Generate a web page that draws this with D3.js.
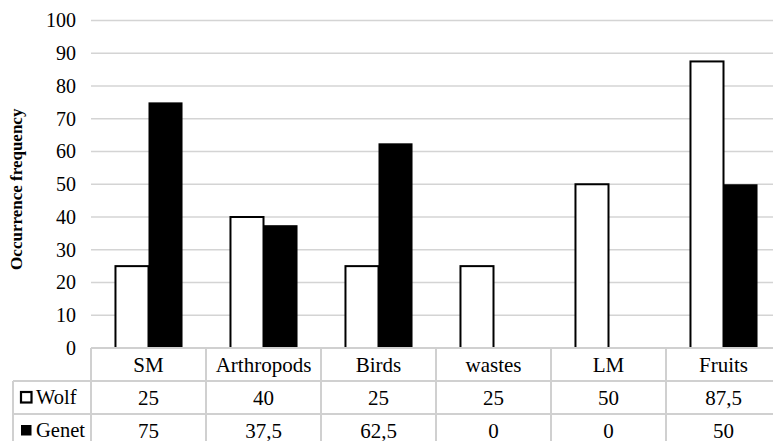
<!DOCTYPE html>
<html>
<head>
<meta charset="utf-8">
<script src="https://cdn.jsdelivr.net/npm/d3@7"></script>
<style>
  html, body { margin: 0; padding: 0; background: #fff; overflow: hidden; }
</style>
</head>
<body>
<svg id="chart" width="773" height="441"></svg>
<script>
// data
const categories = ['SM', 'Arthropods', 'Birds', 'wastes', 'LM', 'Fruits'];
const wolf  = [25, 40, 25, 25, 50, 87.5];
const genet = [75, 37.5, 62.5, 0, 0, 50];
const seriesNames = ['Wolf', 'Genet'];
const yTicks = [0, 10, 20, 30, 40, 50, 60, 70, 80, 90, 100];

const FONT = 'Liberation Serif';
const svg = d3.select('#chart');

// plot area (last column runs past the window edge, as in the reference)
const plotL = 91, plotR = 781, plotT = 20.5, base = 348;
const rowH = 33, labelLeft = 13;

const x = d3.scaleBand().domain(categories).range([plotL, plotR]);
const xs = d3.scaleBand().domain(seriesNames).range([0, x.bandwidth()])
  .paddingOuter(0.69).paddingInner(0);
const y = d3.scaleLinear().domain([0, 100]).range([base, plotT]);

const fmt = v => String(v).replace('.', ',');

// gridlines
svg.append('g').selectAll('line')
  .data(yTicks)
  .join('line')
  .attr('x1', plotL).attr('x2', plotR)
  .attr('y1', d => y(d)).attr('y2', d => y(d))
  .attr('stroke', '#d4d4d4').attr('stroke-width', 1.5);

// y tick labels
svg.append('g').selectAll('text')
  .data(yTicks)
  .join('text')
  .attr('x', 76).attr('y', d => y(d))
  .attr('dy', '0.34em')
  .attr('text-anchor', 'end')
  .attr('font-size', 20)
  .attr('font-family', FONT)
  .text(d => d);

// axis title
svg.append('text')
  .attr('transform', `translate(22,${(plotT + base) / 2 + 5}) rotate(-90)`)
  .attr('text-anchor', 'middle')
  .attr('font-size', 17)
  .attr('font-weight', 'bold')
  .attr('font-family', FONT)
  .text('Occurrence frequency');

// bars
const bars = svg.append('g');
bars.selectAll('rect.wolf')
  .data(categories.map((c, i) => ({ c, v: wolf[i] })))
  .join('rect')
  .attr('class', 'wolf')
  .attr('x', d => x(d.c) + xs('Wolf') + 1)
  .attr('y', d => y(d.v))
  .attr('width', xs.bandwidth() - 1)
  .attr('height', d => base - y(d.v))
  .attr('fill', '#fff')
  .attr('stroke', '#000').attr('stroke-width', 2);

bars.selectAll('rect.genet')
  .data(categories.map((c, i) => ({ c, v: genet[i] })).filter(d => d.v > 0))
  .join('rect')
  .attr('class', 'genet')
  .attr('x', d => x(d.c) + xs('Genet'))
  .attr('y', d => y(d.v))
  .attr('width', xs.bandwidth())
  .attr('height', d => base - y(d.v))
  .attr('fill', '#000');

// data table
const tbl = svg.append('g');
const gridCol = '#d0d0d0';
const row1 = base + rowH, row2 = base + 2 * rowH, row3 = base + 3 * rowH;

tbl.append('line').attr('x1', plotL).attr('x2', plotR).attr('y1', base).attr('y2', base)
  .attr('stroke', gridCol).attr('stroke-width', 2);
[row1, row2].forEach(r => {
  tbl.append('line').attr('x1', labelLeft).attr('x2', plotR).attr('y1', r).attr('y2', r)
    .attr('stroke', gridCol).attr('stroke-width', 2);
});
tbl.append('line').attr('x1', labelLeft).attr('x2', labelLeft).attr('y1', row1).attr('y2', row3)
  .attr('stroke', gridCol).attr('stroke-width', 2);
tbl.selectAll('line.col')
  .data(categories)
  .join('line')
  .attr('class', 'col')
  .attr('x1', d => x(d)).attr('x2', d => x(d))
  .attr('y1', base).attr('y2', row3)
  .attr('stroke', gridCol).attr('stroke-width', 2);

tbl.selectAll('text.cat')
  .data(categories)
  .join('text')
  .attr('class', 'cat')
  .attr('x', d => x(d) + x.bandwidth() / 2)
  .attr('y', base + rowH / 2)
  .attr('dy', '0.34em')
  .attr('text-anchor', 'middle')
  .attr('font-size', 21)
  .attr('font-family', FONT)
  .text(d => d);

[wolf, genet].forEach((vals, k) => {
  const ry = base + rowH * (k + 1) + rowH / 2;
  tbl.selectAll('text.v' + k)
    .data(categories.map((c, i) => ({ c, v: vals[i] })))
    .join('text')
    .attr('class', 'v' + k)
    .attr('x', d => x(d.c) + x.bandwidth() / 2)
    .attr('y', ry)
    .attr('dy', '0.34em')
    .attr('text-anchor', 'middle')
    .attr('font-size', 21)
    .attr('font-family', FONT)
    .text(d => fmt(d.v));

  // legend key + series name
  tbl.append('rect')
    .attr('x', 21).attr('y', ry - 5.5)
    .attr('width', 10.5).attr('height', 10.5)
    .attr('fill', k === 0 ? '#fff' : '#000')
    .attr('stroke', '#000').attr('stroke-width', k === 0 ? 2.2 : 0);
  tbl.append('text')
    .attr('x', 36).attr('y', ry)
    .attr('dy', '0.34em')
    .attr('font-size', 20.5)
    .attr('font-family', FONT)
    .text(seriesNames[k]);
});
</script>
</body>
</html>
